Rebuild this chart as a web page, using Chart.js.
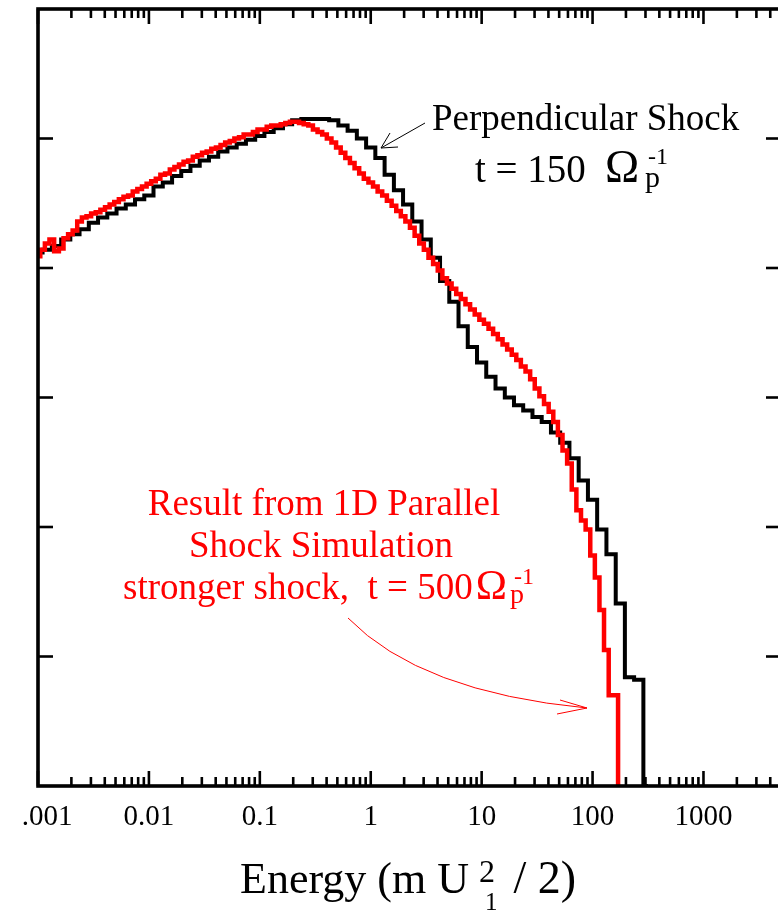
<!DOCTYPE html>
<html><head><meta charset="utf-8">
<script src="https://cdn.jsdelivr.net/npm/chart.js@4/dist/chart.umd.min.js"></script>
<style>html,body{margin:0;padding:0;overflow:hidden;background:#fff;width:778px;height:912px}canvas{display:block}</style>
</head><body><canvas id="c" width="800" height="912" style="width:800px;height:912px"></canvas>
<script>
// Perpendicular shock, t = 150 (12 bins per decade, bin centres)
const blackEnergy = [
 0.001,0.00121,0.00147,0.00178,0.00215,0.00261,0.00316,0.00383,0.00464,0.00562,0.00681,0.00825,
 0.01,0.0121,0.0147,0.0178,0.0215,0.0261,0.0316,0.0383,0.0464,0.0562,0.0681,0.0825,
 0.1,0.121,0.147,0.178,0.215,0.261,0.316,0.383,0.464,0.562,0.681,0.825,
 1,1.21,1.47,1.78,2.15,2.61,3.16,3.83,4.64,5.62,6.81,8.25,
 10,12.1,14.7,17.8,21.5,26.1,31.6,38.3,46.4,56.2,68.1,82.5,
 100,121,147,178,215,261,316];
const blackLogF = [
 4.12,4.14,4.17,4.22,4.26,4.30,4.35,4.39,4.42,4.46,4.49,4.53,
 4.56,4.63,4.66,4.71,4.75,4.79,4.83,4.86,4.90,4.93,4.96,4.99,
 5.02,5.05,5.08,5.11,5.14,5.15,5.15,5.15,5.14,5.10,5.06,5.00,
 4.93,4.85,4.72,4.60,4.49,4.36,4.22,4.08,3.90,3.74,3.55,3.39,
 3.27,3.16,3.07,3.00,2.94,2.90,2.85,2.81,2.73,2.65,2.53,2.36,
 2.21,1.98,1.79,1.41,0.84,0.82,0];
// 1D parallel shock, t = 500 (24 bins per decade, bin centres)
const redEnergy = [
 0.001,0.0011,0.00121,0.00133,0.00147,0.00162,0.00178,0.00196,0.00215,0.00237,0.00261,0.00287,0.00316,0.00348,0.00383,0.00422,0.00464,0.00511,0.00562,0.00619,0.00681,0.0075,0.00825,0.00909,
 0.01,0.011,0.0121,0.0133,0.0147,0.0162,0.0178,0.0196,0.0215,0.0237,0.0261,0.0287,0.0316,0.0348,0.0383,0.0422,0.0464,0.0511,0.0562,0.0619,0.0681,0.075,0.0825,0.0909,
 0.1,0.11,0.121,0.133,0.147,0.162,0.178,0.196,0.215,0.237,0.261,0.287,0.316,0.348,0.383,0.422,0.464,0.511,0.562,0.619,0.681,0.75,0.825,0.909,
 1,1.1,1.21,1.33,1.47,1.62,1.78,1.96,2.15,2.37,2.61,2.87,3.16,3.48,3.83,4.22,4.64,5.11,5.62,6.19,6.81,7.5,8.25,9.09,
 10,11,12.1,13.3,14.7,16.2,17.8,19.6,21.5,23.7,26.1,28.7,31.6,34.8,38.3,42.2,46.4,51.1,56.2,61.9,68.1,75,82.5,90.9,
 100,110,121,133,147,162,178];
const redLogF = [
 4.09,4.14,4.19,4.22,4.13,4.15,4.23,4.26,4.29,4.36,4.39,4.40,4.42,4.43,4.45,4.47,4.49,4.51,4.53,4.55,4.56,4.59,4.61,4.63,
 4.65,4.67,4.69,4.72,4.73,4.76,4.78,4.80,4.82,4.83,4.86,4.87,4.89,4.90,4.92,4.93,4.95,4.97,4.98,5.00,5.01,5.03,5.03,5.05,
 5.07,5.07,5.09,5.10,5.10,5.11,5.12,5.13,5.13,5.12,5.11,5.10,5.07,5.05,5.03,5.00,4.97,4.93,4.89,4.85,4.81,4.77,4.73,4.69,
 4.66,4.63,4.59,4.56,4.52,4.48,4.44,4.40,4.36,4.31,4.25,4.19,4.14,4.08,4.03,3.98,3.92,3.88,3.84,3.80,3.76,3.72,3.68,3.64,
 3.60,3.57,3.53,3.49,3.45,3.41,3.37,3.33,3.29,3.24,3.20,3.14,3.07,3.01,2.95,2.89,2.81,2.71,2.59,2.49,2.29,2.13,2.05,1.98,
 1.78,1.61,1.36,1.05,0.70,0.70,0];

const xMajorTicks = [0.001,0.01,0.1,1,10,100,1000];
const xTickLabels = ['.001','0.01','0.1','1','10','100','1000'];
const xMinorMultipliers = [2,3,4,5,6,7,8,9];
const yMajorTicks = [1,2,3,4,5];
const xRange = [0.001, 5000];
const yRange = [0, 6];

const SERIF = '"Liberation Serif","Times New Roman",serif';

function txt(ctx, s, x, y, size, color, align){
  ctx.font = size + 'px ' + SERIF;
  ctx.fillStyle = color;
  ctx.textAlign = align || 'left';
  ctx.textBaseline = 'alphabetic';
  ctx.fillText(s, x, y);
  return ctx.measureText(s).width;
}

const framePlugin = {
  id: 'frame',
  afterDraw(chart){
    const {ctx, chartArea:a, scales:{x, y}} = chart;
    ctx.save();
    ctx.strokeStyle = '#000';
    ctx.lineCap = 'butt';
    ctx.lineWidth = 2.6;
    const vline = (px, y0, y1) => {ctx.beginPath(); ctx.moveTo(px, y0); ctx.lineTo(px, y1); ctx.stroke();};
    const hline = (py, x0, x1) => {ctx.beginPath(); ctx.moveTo(x0, py); ctx.lineTo(x1, py); ctx.stroke();};
    xMajorTicks.forEach(v => {
      const px = x.getPixelForValue(v);
      vline(px, a.bottom, a.bottom - 15);
      vline(px, a.top, a.top + 15);
    });
    const minors = [];
    xMajorTicks.forEach(v => xMinorMultipliers.forEach(m => { if (v*m < xRange[1]) minors.push(v*m); }));
    minors.forEach(v => {
      const px = x.getPixelForValue(v);
      vline(px, a.bottom, a.bottom - 9);
      vline(px, a.top, a.top + 9);
    });
    yMajorTicks.forEach(v => {
      const py = y.getPixelForValue(v);
      hline(py, a.left, a.left + 15);
      hline(py, a.right, a.right - 15);
    });
    ctx.lineWidth = 3.6;
    ctx.strokeRect(a.left, a.top, a.right - a.left, a.bottom - a.top);

    // tick labels
    xMajorTicks.forEach((v, i) => {
      let px = x.getPixelForValue(v);
      if (i === 0) px += 9;
      txt(ctx, xTickLabels[i], px, 825, 29, '#000', 'center');
    });

    // axis title: Energy (m U_1^2 / 2)
    let cx = 240;
    const tb = 893;
    cx += txt(ctx, 'Energy (m U', cx, tb, 44, '#000');
    txt(ctx, '2', cx + 10, tb - 11, 32, '#000');
    txt(ctx, '1', cx + 16, tb + 17, 25, '#000');
    txt(ctx, ' / 2)', cx + 33, tb, 46, '#000');

    // black annotation
    txt(ctx, 'Perpendicular Shock', 432, 130, 37, '#000');
    txt(ctx, 't = 150', 475, 182, 39, '#000');
    txt(ctx, '\u03A9', 605, 182, 46, '#000');
    txt(ctx, 'p', 645, 187, 30, '#000');
    txt(ctx, '-1', 648, 164, 24, '#000');
    ctx.strokeStyle = '#000';
    ctx.lineWidth = 1;
    ctx.beginPath();
    ctx.moveTo(425, 123); ctx.lineTo(381, 148);
    ctx.moveTo(390, 133); ctx.lineTo(381, 148); ctx.lineTo(398, 147);
    ctx.stroke();

    // red annotation
    const red = '#ff0000';
    txt(ctx, 'Result from 1D Parallel', 324, 515, 37, red, 'center');
    txt(ctx, 'Shock Simulation', 321, 557, 37, red, 'center');
    let rx = 123 + txt(ctx, 'stronger shock,  t = 500', 123, 599, 37, red);
    rx += 3;
    rx += txt(ctx, '\u03A9', rx, 599, 42, red);
    txt(ctx, 'p', rx + 3, 603, 28, red);
    txt(ctx, '-1', rx + 7, 584, 24, red);
    ctx.strokeStyle = red;
    ctx.lineWidth = 1;
    ctx.beginPath();
    ctx.moveTo(348, 618);
    ctx.quadraticCurveTo(420, 692, 587, 708);
    ctx.moveTo(560, 700); ctx.lineTo(587, 708); ctx.lineTo(557, 714);
    ctx.stroke();
    ctx.restore();
  }
};

new Chart(document.getElementById('c'), {
  type: 'line',
  data: {
    datasets: [
      {
        label: 'Result from 1D Parallel Shock Simulation, t = 500',
        data: redEnergy.map((e, i) => ({x: e, y: redLogF[i]})),
        borderColor: '#ff0000', borderWidth: 4.5, stepped: 'middle',
        pointRadius: 0, fill: false, borderJoinStyle: 'miter', borderCapStyle: 'butt'
      },
      {
        label: 'Perpendicular Shock, t = 150',
        data: blackEnergy.map((e, i) => ({x: e, y: blackLogF[i]})),
        borderColor: '#000000', borderWidth: 4, stepped: 'middle',
        pointRadius: 0, fill: false, borderJoinStyle: 'miter', borderCapStyle: 'butt'
      }
    ]
  },
  options: {
    responsive: false, animation: false, devicePixelRatio: 1,
    layout: {padding: {left: 38, top: 9, right: 19, bottom: 126}},
    scales: {
      x: {type: 'logarithmic', min: xRange[0], max: xRange[1], display: false},
      y: {type: 'linear', min: yRange[0], max: yRange[1], display: false}
    },
    plugins: {legend: {display: false}, tooltip: {enabled: false}}
  },
  plugins: [framePlugin]
});
</script>
</body></html>
